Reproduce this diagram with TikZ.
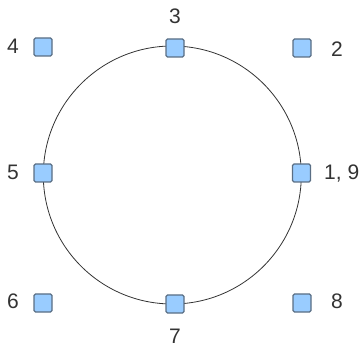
\documentclass[tikz,border=0pt]{standalone}
\usepackage{fontspec}
\setmainfont{Liberation Sans}
\definecolor{sqfill}{HTML}{99CCFF}
\definecolor{sqdraw}{HTML}{5A6E84}
\definecolor{txt}{HTML}{333333}
\begin{document}
\begin{tikzpicture}[x=1pt,y=-1pt,
  sq/.style={draw=sqdraw,fill=sqfill,line width=1.4pt,rounded corners=1.5pt,minimum size=18pt,inner sep=0pt},
  lbl/.style={text=txt,font=\fontsize{21}{25}\selectfont,inner sep=0pt}]
\useasboundingbox (0,0) rectangle (364,347);
\draw[line width=0.8pt,draw=black!80] (172.3,175) circle[radius=129];
\node[sq] (s4) at (43,47) {};
\node[sq] (s3) at (175,48) {};
\node[sq] (s2) at (302,48) {};
\node[sq] (s5) at (43,173) {};
\node[sq] (s1) at (301.5,173) {};
\node[sq] (s6) at (43,303) {};
\node[sq] (s7) at (175,304) {};
\node[sq] (s8) at (302,303) {};
\node[lbl] (l4) at (13,46) {4};
\node[lbl] (l3) at (175,16) {3};
\node[lbl] (l2) at (337,49) {2};
\node[lbl] (l5) at (13,172) {5};
\node[lbl,anchor=west] (l1) at (324,174) {1, 9};
\node[lbl] (l6) at (13,301) {6};
\node[lbl] (l7) at (175,336) {7};
\node[lbl] (l8) at (337,301) {8};
\end{tikzpicture}
\end{document}
